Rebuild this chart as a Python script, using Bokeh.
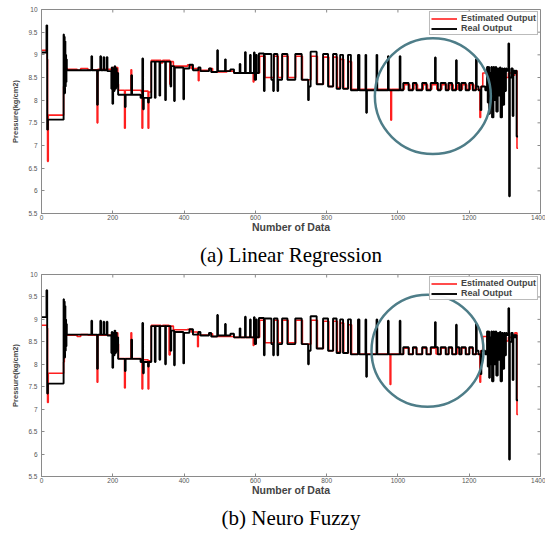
import math
from bokeh.plotting import figure
from bokeh.models import Title, Legend, LegendItem, FixedTicker, Range1d
from bokeh.layouts import column
from bokeh.embed import file_html
from bokeh.resources import INLINE

x_ticks = [0, 200, 400, 600, 800, 1000, 1200, 1400]
y_ticks = [5.5, 6, 6.5, 7, 7.5, 8, 8.5, 9, 9.5, 10]
y_tick_labels = ["5.5", "6", "6.5", "7", "7.5", "8", "8.5", "9", "9.5", "10"]

# Real output (step series: level starts at x)
real_x = [0, 14, 16, 18, 62, 63, 64, 65, 66, 67, 68, 69, 70, 71,
          140, 142, 156, 158, 165, 167, 174, 176, 183, 185,
          196, 197, 199, 201, 203, 205, 207, 209, 211, 213, 215,
          234, 236, 252, 254, 278, 283, 285, 287, 299, 301, 308,
          318, 320, 331, 333, 347, 349, 362, 364, 372, 374, 398, 400,
          415, 425, 440, 446, 470, 476, 493, 495, 515, 517, 530, 540,
          556, 558, 571, 573, 585, 587, 596, 598, 602, 604, 610,
          624, 626, 645, 650, 652, 662, 664, 675, 690, 712, 730, 748, 750,
          755, 772, 790, 804, 818, 828, 838, 846, 860, 868, 888, 892,
          909, 911, 913, 940, 942, 972, 974, 1005, 1007,
          1015, 1030, 1042, 1052, 1068, 1080, 1092, 1104, 1106, 1112,
          1120, 1134, 1142, 1152, 1163, 1165, 1172, 1178, 1190, 1200, 1210,
          1219, 1221, 1226, 1232, 1234, 1245,
          1250, 1252, 1254, 1256, 1258, 1260, 1262, 1264, 1268, 1270, 1274, 1276,
          1280, 1282, 1286, 1288, 1292, 1294, 1298, 1300, 1303, 1305,
          1310, 1312, 1314, 1318, 1322, 1324, 1328, 1330, 1333, 1337]
real_y = [9.05, 9.65, 7.35, 7.57, 9.45, 8.2, 9.4, 8.15, 9.3, 8.3, 9.0, 8.4, 8.9, 8.66,
          8.97, 8.66, 7.9, 8.66, 8.97, 8.66, 8.95, 8.66, 8.95, 8.64,
          8.25, 8.72, 7.92, 8.7, 8.2, 8.75, 8.25, 8.7, 8.3, 8.6, 8.12,
          7.85, 8.12, 8.55, 8.12, 8.05, 8.92, 7.8, 8.05, 7.95, 8.05, 8.85,
          8.05, 8.85, 8.1, 8.85, 8.0, 8.85, 8.3, 8.75, 7.98, 8.72, 8.02, 8.7,
          8.78, 8.66, 8.72, 8.64, 8.7, 8.62, 9.1, 8.64, 8.9, 8.64, 8.68, 8.6,
          8.8, 8.6, 9.06, 8.6, 9.0, 8.6, 9.05, 8.45, 9.0, 8.6, 9.03,
          8.2, 9.02, 8.45, 8.2, 9.02, 8.2, 8.45, 9.02, 8.45, 9.02, 8.45, 8.0, 8.3,
          9.07, 8.35, 9.02, 8.3, 9.02, 8.25, 9.0, 8.25, 9.0, 8.22, 9.0, 8.22,
          9.0, 7.72, 8.22, 9.0, 8.22, 8.97, 8.22, 8.97, 8.22,
          8.38, 8.22, 8.38, 8.22, 8.38, 8.22, 8.38, 8.94, 8.38, 8.22,
          8.38, 8.22, 8.38, 8.22, 8.88, 8.38, 8.22, 8.38, 8.22, 8.38, 8.22,
          8.9, 8.3, 8.22, 7.78, 8.3, 8.22,
          8.73, 7.95, 8.73, 7.7, 8.6, 8.0, 8.73, 7.62, 8.73, 8.0, 8.73, 7.75,
          8.7, 8.1, 8.72, 7.62, 8.7, 7.9, 8.7, 8.2, 8.7, 8.65,
          9.25, 5.88, 8.5, 8.7, 7.65, 8.65, 8.6, 8.65, 7.2, 7.2]

# Estimated output, Linear Regression
est_lr_x = [0, 16, 17, 19, 62, 64, 72, 100, 110, 130,
            156, 158, 200, 214, 216, 233, 235, 251, 253,
            280, 282, 284, 299, 301, 308, 335, 340, 360, 363, 370,
            410, 420, 440, 442, 470, 480, 520, 540, 594, 596,
            604, 612, 627, 652, 664, 676, 692, 713, 732, 756, 774,
            791, 806, 819, 830, 839, 848, 861, 870,
            980, 982, 1018, 1033, 1045, 1055, 1071, 1083, 1095, 1109,
            1123, 1137, 1145, 1155, 1168, 1175, 1181, 1193, 1203, 1213,
            1230, 1232, 1238, 1250, 1262, 1270, 1290, 1300, 1310, 1320, 1328, 1334, 1337]
est_lr_y = [9.1, 8.9, 6.65, 7.67, 8.3, 8.7, 8.68, 8.66, 8.7, 8.67,
            7.5, 8.68, 8.72, 8.35, 8.22, 7.38, 8.22, 8.67, 8.22,
            8.18, 7.38, 8.2, 7.38, 8.18, 8.88, 8.82, 8.88, 8.35, 8.85, 8.75,
            8.78, 8.7, 8.43, 8.66, 8.7, 8.62, 8.64, 8.6, 8.4, 8.62,
            8.6, 8.97, 8.5, 8.97, 8.5, 8.97, 8.5, 8.97, 8.45, 8.97, 8.35,
            8.95, 8.3, 8.95, 8.28, 8.9, 8.26, 8.85, 8.24,
            7.56, 8.24, 8.34, 8.24, 8.34, 8.24, 8.34, 8.24, 8.34, 8.24,
            8.34, 8.24, 8.34, 8.24, 8.34, 8.24, 8.34, 8.24, 8.34, 8.24,
            7.62, 8.3, 8.6, 8.5, 8.55, 8.6, 8.55, 8.5, 8.6, 8.55, 8.65, 6.94, 6.94]

# Estimated output, Neuro Fuzzy
est_nf_x = [0, 16, 17, 19, 62, 64, 72, 100, 110, 130,
            156, 158, 200, 214, 216, 233, 235, 251, 253,
            280, 282, 284, 299, 301, 308, 335, 340, 358, 361, 370,
            410, 420, 438, 440, 470, 480, 520, 540, 594, 596,
            604, 612, 627, 652, 664, 676, 692, 713, 732, 756, 774,
            791, 806, 819, 830, 839, 848, 861, 870,
            978, 980, 1016, 1031, 1043, 1053, 1069, 1081, 1093, 1107,
            1121, 1135, 1143, 1153, 1166, 1173, 1179, 1191, 1201, 1211,
            1230, 1232, 1238, 1250, 1262, 1270, 1290, 1300, 1310, 1320, 1328, 1334, 1337]
est_nf_y = [8.87, 8.8, 7.15, 7.8, 8.05, 8.65, 8.65, 8.62, 8.66, 8.65,
            7.6, 8.65, 8.7, 8.45, 8.13, 7.47, 8.13, 8.7, 8.13,
            8.1, 7.45, 8.1, 7.45, 8.08, 8.87, 8.85, 8.87, 8.21, 8.85, 8.77,
            8.78, 8.72, 8.39, 8.65, 8.68, 8.62, 8.62, 8.6, 8.42, 8.62,
            8.6, 8.98, 8.48, 8.98, 8.48, 8.98, 8.48, 8.98, 8.45, 8.98, 8.35,
            8.96, 8.3, 8.96, 8.27, 8.92, 8.25, 8.88, 8.23,
            7.55, 8.23, 8.36, 8.23, 8.36, 8.23, 8.36, 8.23, 8.36, 8.23,
            8.36, 8.23, 8.36, 8.23, 8.36, 8.23, 8.36, 8.23, 8.36, 8.23,
            7.6, 8.3, 8.62, 8.5, 8.58, 8.62, 8.55, 8.52, 8.6, 8.6, 8.7, 6.88, 6.88]

captions = ["(a) Linear Regression", "(b) Neuro Fuzzy"]

AX = "#8a8a8a"
TICK_FONT = "Liberation Sans"


def style_axis(ax, ticks, overrides=None):
    ax.ticker = FixedTicker(ticks=ticks)
    ax.axis_line_color = AX
    ax.major_tick_line_color = AX
    ax.major_tick_in = 3
    ax.major_tick_out = 0
    ax.minor_tick_line_color = None
    ax.major_label_text_font = TICK_FONT
    ax.major_label_text_font_size = "6.5px"
    ax.major_label_text_color = "#555555"
    if overrides:
        ax.major_label_overrides = overrides


def make_panel(est_x, est_y, caption, w, h, bl, br, bt, bb, cx, cy, cd):
    p = figure(width=w, height=h, x_range=Range1d(0, 1400), y_range=Range1d(5.5, 10),
               output_backend="svg", toolbar_location=None,
               min_border_left=bl, min_border_right=br, min_border_top=bt, min_border_bottom=bb)
    p.grid.visible = False
    p.outline_line_color = AX
    p.background_fill_color = "white"

    r_est = p.step(est_x, est_y, mode="after", line_color="#ff1f1f", line_width=1.6)
    r_real = p.step(real_x, real_y, mode="after", line_color="black", line_width=1.9)
    p.scatter([cx], [cy], size=cd, marker="circle", fill_color=None,
              line_color="#4e7d88", line_width=2.5)

    # inner tick marks on the top and right frame edges
    p.ray(x=x_ticks, y=[y_ticks[-1]] * len(x_ticks), length=3, length_units="screen",
          angle=-math.pi / 2, line_color=AX, line_width=1)
    p.ray(x=[x_ticks[-1]] * len(y_ticks), y=y_ticks, length=3, length_units="screen",
          angle=math.pi, line_color=AX, line_width=1)

    ylab = {float(t): s for t, s in zip(y_ticks, y_tick_labels)}
    style_axis(p.xaxis[0], x_ticks)
    style_axis(p.yaxis[0], y_ticks, ylab)
    p.xaxis[0].major_label_standoff = 1
    p.yaxis[0].major_label_standoff = 4
    p.xaxis[0].axis_label = "Number of Data"
    p.xaxis[0].axis_label_text_font = "Liberation Sans"
    p.xaxis[0].axis_label_text_font_style = "bold"
    p.xaxis[0].axis_label_text_font_size = "10.5px"
    p.xaxis[0].axis_label_standoff = -2
    p.yaxis[0].axis_label = "Pressure(kg/cm2)"
    p.yaxis[0].axis_label_text_font = "Liberation Sans"
    p.yaxis[0].axis_label_text_font_style = "bold"
    p.yaxis[0].axis_label_text_font_size = "7.5px"
    p.yaxis[0].axis_label_standoff = 5

    legend = Legend(items=[LegendItem(label="Estimated Output", renderers=[r_est]),
                           LegendItem(label="Real Output", renderers=[r_real])],
                    location="top_right", label_text_font="Liberation Sans",
                    label_text_font_style="bold", label_text_font_size="9px",
                    label_text_line_height=0.85,
                    glyph_height=7, label_height=7, glyph_width=26, spacing=0,
                    padding=1, margin=2, label_standoff=4,
                    border_line_color="#777777", border_line_width=1)
    p.add_layout(legend)

    t = Title(text=caption, align="center", text_font="Liberation Serif",
              text_font_size="21px", text_font_style="normal", text_color="black")
    p.add_layout(t, "below")
    return p


pa = make_panel(est_lr_x, est_lr_y, captions[0], 545, 271, 41, 4, 9, 57, 1098, 8.09, 116)
pb = make_panel(est_nf_x, est_nf_y, captions[1], 545, 263, 38, 5, 3, 54, 1083, 8.30, 112)

layout = column(pa, pb, spacing=0)
open("out.html", "w").write(file_html(layout, INLINE))
